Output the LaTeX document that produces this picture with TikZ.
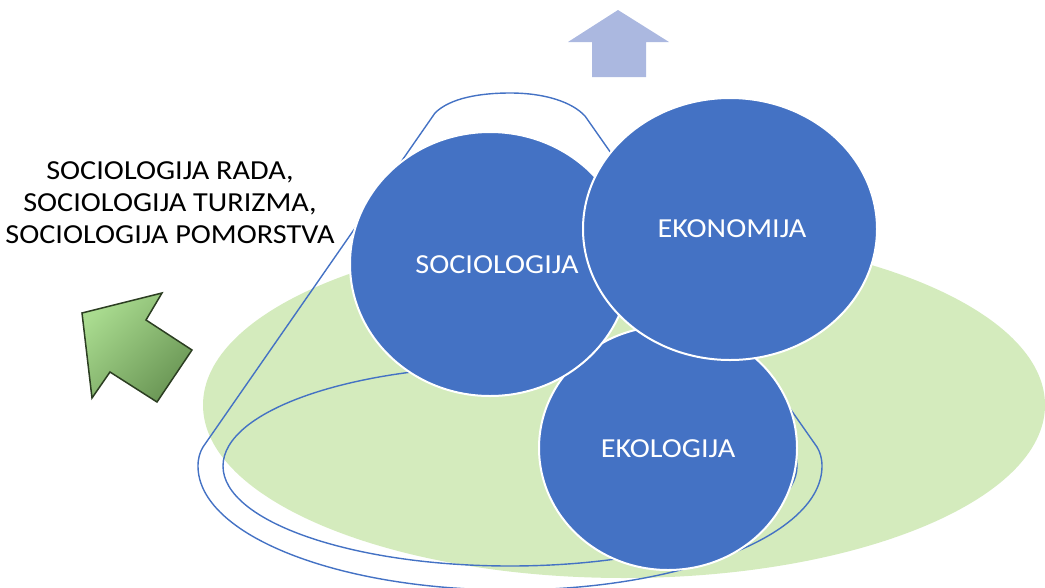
\documentclass[tikz,border=0pt]{standalone}
\usepackage{fontspec}
\setmainfont{Carlito}
\usetikzlibrary{shapes.geometric}
\definecolor{blob}{HTML}{4472C4}
\definecolor{ground}{HTML}{D4EBBD}
\definecolor{uparrow}{HTML}{ABB8E0}
\definecolor{glight}{HTML}{A9DB8F}
\definecolor{gdark}{HTML}{6A9655}
\definecolor{gedge}{HTML}{2C3E22}
\tikzset{
  blobnode/.style={ellipse, fill=blob, draw=white, line width=2pt, inner sep=0pt},
  blobtext/.style={text=white, font=\fontsize{27.5}{32}\selectfont, xscale=1.1, inner sep=0pt},
  lasso/.style={draw=blob, line width=1.4pt},
}
\begin{document}
\begin{tikzpicture}[x=1pt,y=-1pt]
\useasboundingbox (0,0) rectangle (1045,587);
% ground ellipse
\fill[ground] (624,405) ellipse [x radius=421pt, y radius=173pt];
% up arrow
\fill[uparrow] (618,10) -- (669,42) -- (646,42) -- (646,77) -- (592,77) -- (592,42) -- (568,42) -- cycle;
% green arrow
\shade[top color=glight, bottom color=gdark, shading angle=45, draw=gedge, line width=1.5pt, line join=miter]
  (82,313) -- (162,293) -- (146,320) -- (192,350) -- (157,402) -- (110,372) -- (92,398) -- cycle;
% left text
\node[align=center, font=\fontsize{27.5}{32}\selectfont, xscale=1.1, inner sep=0pt, anchor=north] (sub) at (170,161.5)
  {SOCIOLOGIJA RADA,\\SOCIOLOGIJA TURIZMA,\\SOCIOLOGIJA POMORSTVA};
% outlines
\draw[lasso] (203,447) -- (435,113) .. controls (450,98) and (480,93) .. (510,93)
  .. controls (545,93) and (572,102) .. (585,116) -- (817,447)
  .. controls (820,452) and (822,458) .. (822,466)
  .. controls (822,535) and (682,590) .. (510,590)
  .. controls (338,590) and (198,535) .. (198,466)
  .. controls (198,458) and (200,452) .. (203,447) -- cycle;
\draw[lasso] (510,466) ellipse [x radius=287pt, y radius=100pt];
% circles
\node[blobnode, minimum width=258pt, minimum height=244pt] (eko) at (668,448) {};
\node[blobnode, minimum width=280pt, minimum height=264pt] (soc) at (490,264) {};
\node[blobnode, minimum width=294pt, minimum height=262pt] (ekon) at (730,229) {};
\node[blobtext] (soct) at ([xshift=7pt,yshift=-1pt]soc.center) {SOCIOLOGIJA};
\node[blobtext] (ekont) at ([xshift=2pt]ekon.center) {EKONOMIJA};
\node[blobtext] (ekot) at ([yshift=-1pt]eko.center) {EKOLOGIJA};
\end{tikzpicture}
\end{document}
